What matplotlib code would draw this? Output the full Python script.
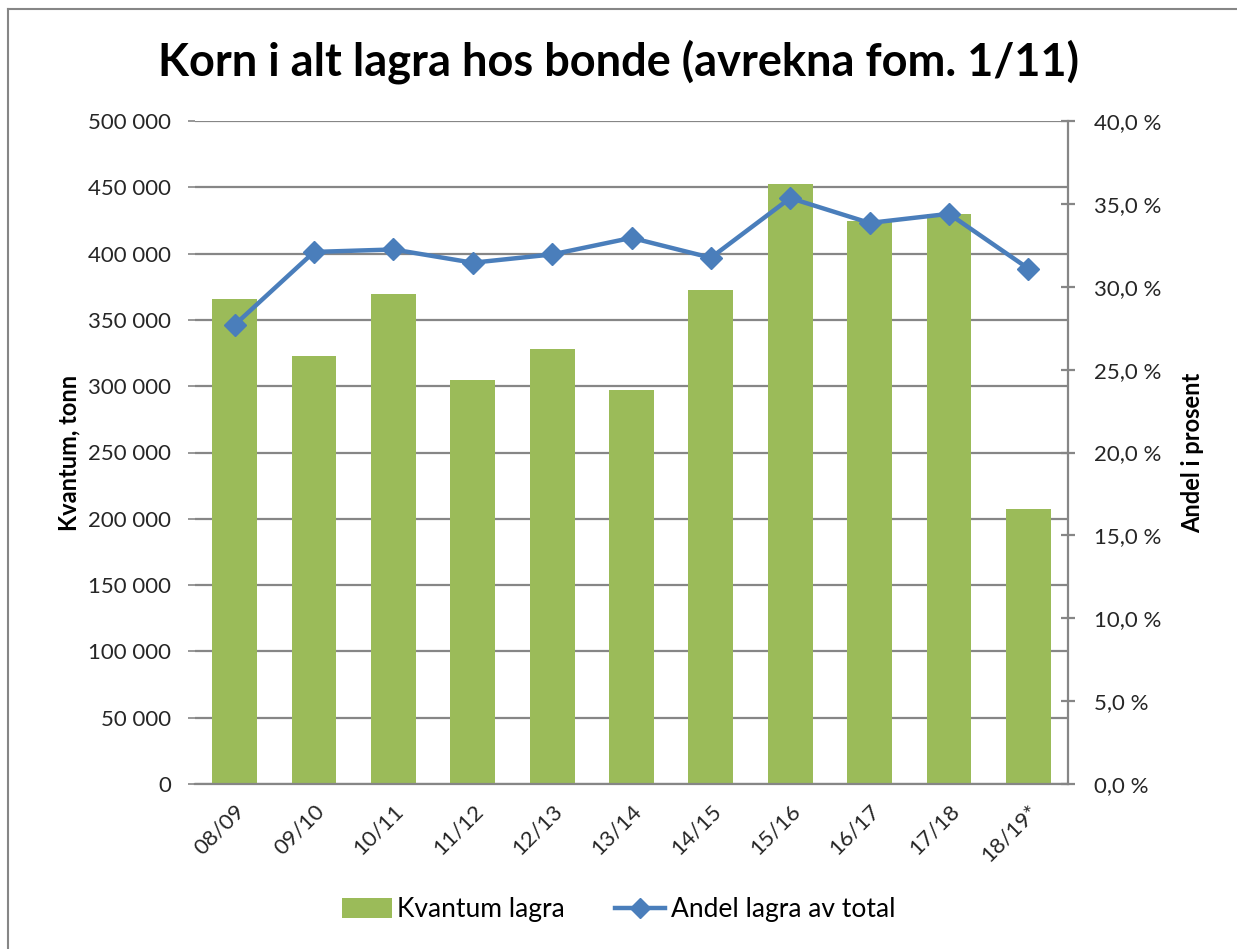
import matplotlib
matplotlib.use("Agg")
import matplotlib.pyplot as plt
from matplotlib.ticker import FuncFormatter, MultipleLocator
from matplotlib.lines import Line2D
from matplotlib.patches import Patch

categories = ["08/09", "09/10", "10/11", "11/12", "12/13", "13/14",
              "14/15", "15/16", "16/17", "17/18", "18/19*"]
kvantum = [365500, 323000, 369500, 304700, 328000, 297000,
           372300, 452700, 424600, 429600, 207200]
andel = [27.7, 32.1, 32.25, 31.45, 31.95, 32.95,
         31.75, 35.35, 33.85, 34.4, 31.1]

plt.rcParams['font.family'] = ['Lato', 'DejaVu Sans']
green = "#9BBB59"
blue = "#4A7EBB"
grid = "#868686"
txt = "#262626"

fig = plt.figure(figsize=(12.37, 9.49), dpi=100)
ax = fig.add_axes([195/1237, 1-784/949, (1068-195)/1237, (784-121)/949])
x = list(range(len(categories)))
ax.bar(x, kvantum, width=0.565, color=green, zorder=2)
ax.set_xlim(-0.5, len(categories)-0.5)
ax.set_ylim(0, 500000)
ax.yaxis.set_major_locator(MultipleLocator(50000))
ax.yaxis.set_major_formatter(FuncFormatter(lambda v, p: f"{int(v):,}".replace(",", " ")))
ax.grid(axis='y', color=grid, linewidth=1.6, zorder=0)
ax.set_axisbelow(True)
for s in ['top', 'right', 'left']:
    ax.spines[s].set_visible(False)
ax.spines['bottom'].set_color(grid)
ax.spines['bottom'].set_linewidth(1.6)
ax.tick_params(axis='y', length=5, color=grid, width=1.2, labelsize=16, labelcolor=txt, pad=12)
ax.tick_params(axis='x', length=0, labelsize=16, labelcolor=txt, pad=12)
ax.set_xticks(x)
ax.set_xticklabels(categories, rotation=45, ha='right', rotation_mode='anchor')
ax.set_ylabel("Kvantum, tonn", fontsize=17, fontweight='bold', color='black', labelpad=6)

ax2 = ax.twinx()
ax2.plot(x, andel, color=blue, linewidth=3.2, marker='D', markersize=11, zorder=3)
ax2.set_ylim(0, 40)
ax2.yaxis.set_major_locator(MultipleLocator(5))
ax2.yaxis.set_major_formatter(FuncFormatter(lambda v, p: f"{v:.1f}".replace(".", ",") + " %"))
for s in ['top', 'left', 'bottom']:
    ax2.spines[s].set_visible(False)
ax2.spines['right'].set_color(grid)
ax2.spines['right'].set_linewidth(1.6)
ax2.tick_params(axis='y', direction='inout', length=10, color=grid, width=1.6,
                labelsize=16, labelcolor=txt, pad=14)
ax2.set_ylabel("Andel i prosent", fontsize=17, fontweight='bold', color='black', labelpad=14)

fig.text(0.5, 1-62/949, "Korn i alt lagra hos bonde (avrekna fom. 1/11)",
         ha='center', va='center', fontsize=32.5, fontweight='bold', color='black')

handles = [Patch(facecolor=green, edgecolor='none'),
           Line2D([0], [0], color=blue, linewidth=3.2, marker='D', markersize=10)]
fig.legend(handles, ["Kvantum lagra", "Andel lagra av total"], loc='center',
           bbox_to_anchor=(0.5, 1-910/949), ncol=2, frameon=False, fontsize=19,
           handlelength=1.9, handleheight=0.8, columnspacing=1.9, handletextpad=0.2)

# chart border (top and left visible)
fig.add_artist(Line2D([8/1237, 8/1237], [0, 1-9/949], transform=fig.transFigure, color=grid, linewidth=1.5))
fig.add_artist(Line2D([8/1237, 1], [1-9/949, 1-9/949], transform=fig.transFigure, color=grid, linewidth=1.5))

fig.savefig("out.png", dpi=100)
